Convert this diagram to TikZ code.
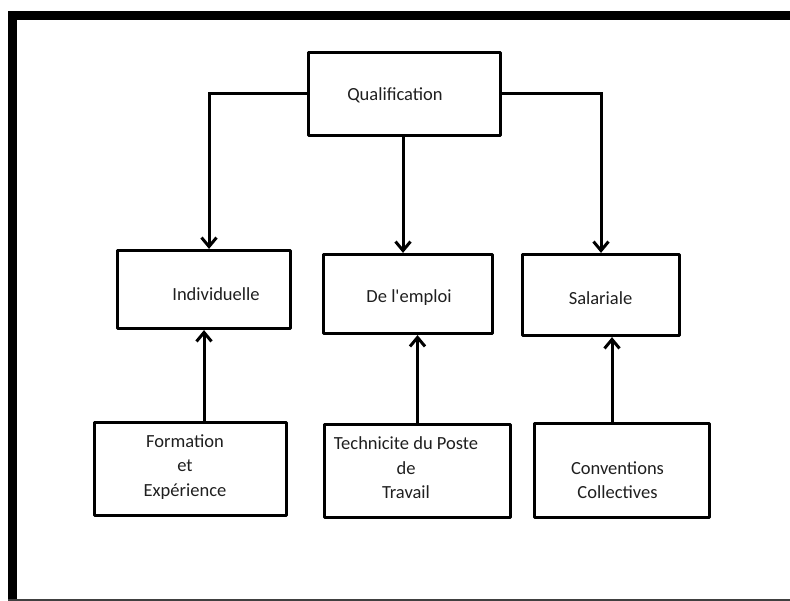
\documentclass[tikz,border=0pt]{standalone}
\usepackage{fontspec}
\newfontfamily\carl{Carlito}
\usetikzlibrary{arrows.meta}
\begin{document}
\begin{tikzpicture}[x=1pt,y=-1pt,
  box/.style={draw=black,line width=3.2pt,inner sep=0pt,line join=round},
  txt/.style={font=\carl\fontsize{18.5}{24.5}\selectfont,text=black!88,align=center,inner sep=0pt},
  arr/.style={line width=3pt,-{Straight Barb[length=9pt,width=15pt,line width=3pt]}}]
\useasboundingbox (0,0) rectangle (790,601);
% frame
\fill[black] (8,11) rectangle (790,20);
\fill[black] (8,11) rectangle (17,601);
\fill[black!75] (8,598.5) rectangle (790,601);
% boxes
\node[box,minimum width=192pt,minimum height=83pt] (qual) at (404.5,94) {};
\node[box,minimum width=173pt,minimum height=78pt] (ind) at (204,289.5) {};
\node[box,minimum width=169pt,minimum height=79pt] (emp) at (408,294) {};
\node[box,minimum width=157pt,minimum height=81pt] (sal) at (601,295) {};
\node[box,minimum width=192pt,minimum height=93pt] (form) at (190.5,469) {};
\node[box,minimum width=186pt,minimum height=93pt] (tech) at (417.5,471) {};
\node[box,minimum width=175pt,minimum height=94pt] (conv) at (622,470.5) {};
% texts
\node[txt] (tqual) at (395,95) {Qualification};
\node[txt] (tind) at (216,294) {Individuelle};
\node[txt] (temp) at (409,298) {De l'emploi};
\node[txt] (tsal) at (600.5,298) {Salariale};
\node[txt] (tform) at (185,467) {Formation\\et\\Expérience};
\node[txt] (ttech) at (406,468) {Technicite du Poste\\de\\Travail};
\node[txt] (tconv) at (617.5,480) {Conventions\\Collectives};
% connectors
\draw[arr] (qual.west) -| ([xshift=5pt]ind.north);
\draw[arr] (qual.east) -| (sal.north);
\draw[arr] ([xshift=-1.5pt]qual.south) -- ([xshift=-1.5pt]qual.south |- emp.north);
\draw[arr] (ind.south |- form.north) -- (ind.south);
\draw[arr] (tech.north) -- (tech.north |- emp.south);
\draw[arr] ([xshift=-10pt]conv.north) -- ([xshift=-10pt]conv.north |- sal.south);
\end{tikzpicture}
\end{document}
